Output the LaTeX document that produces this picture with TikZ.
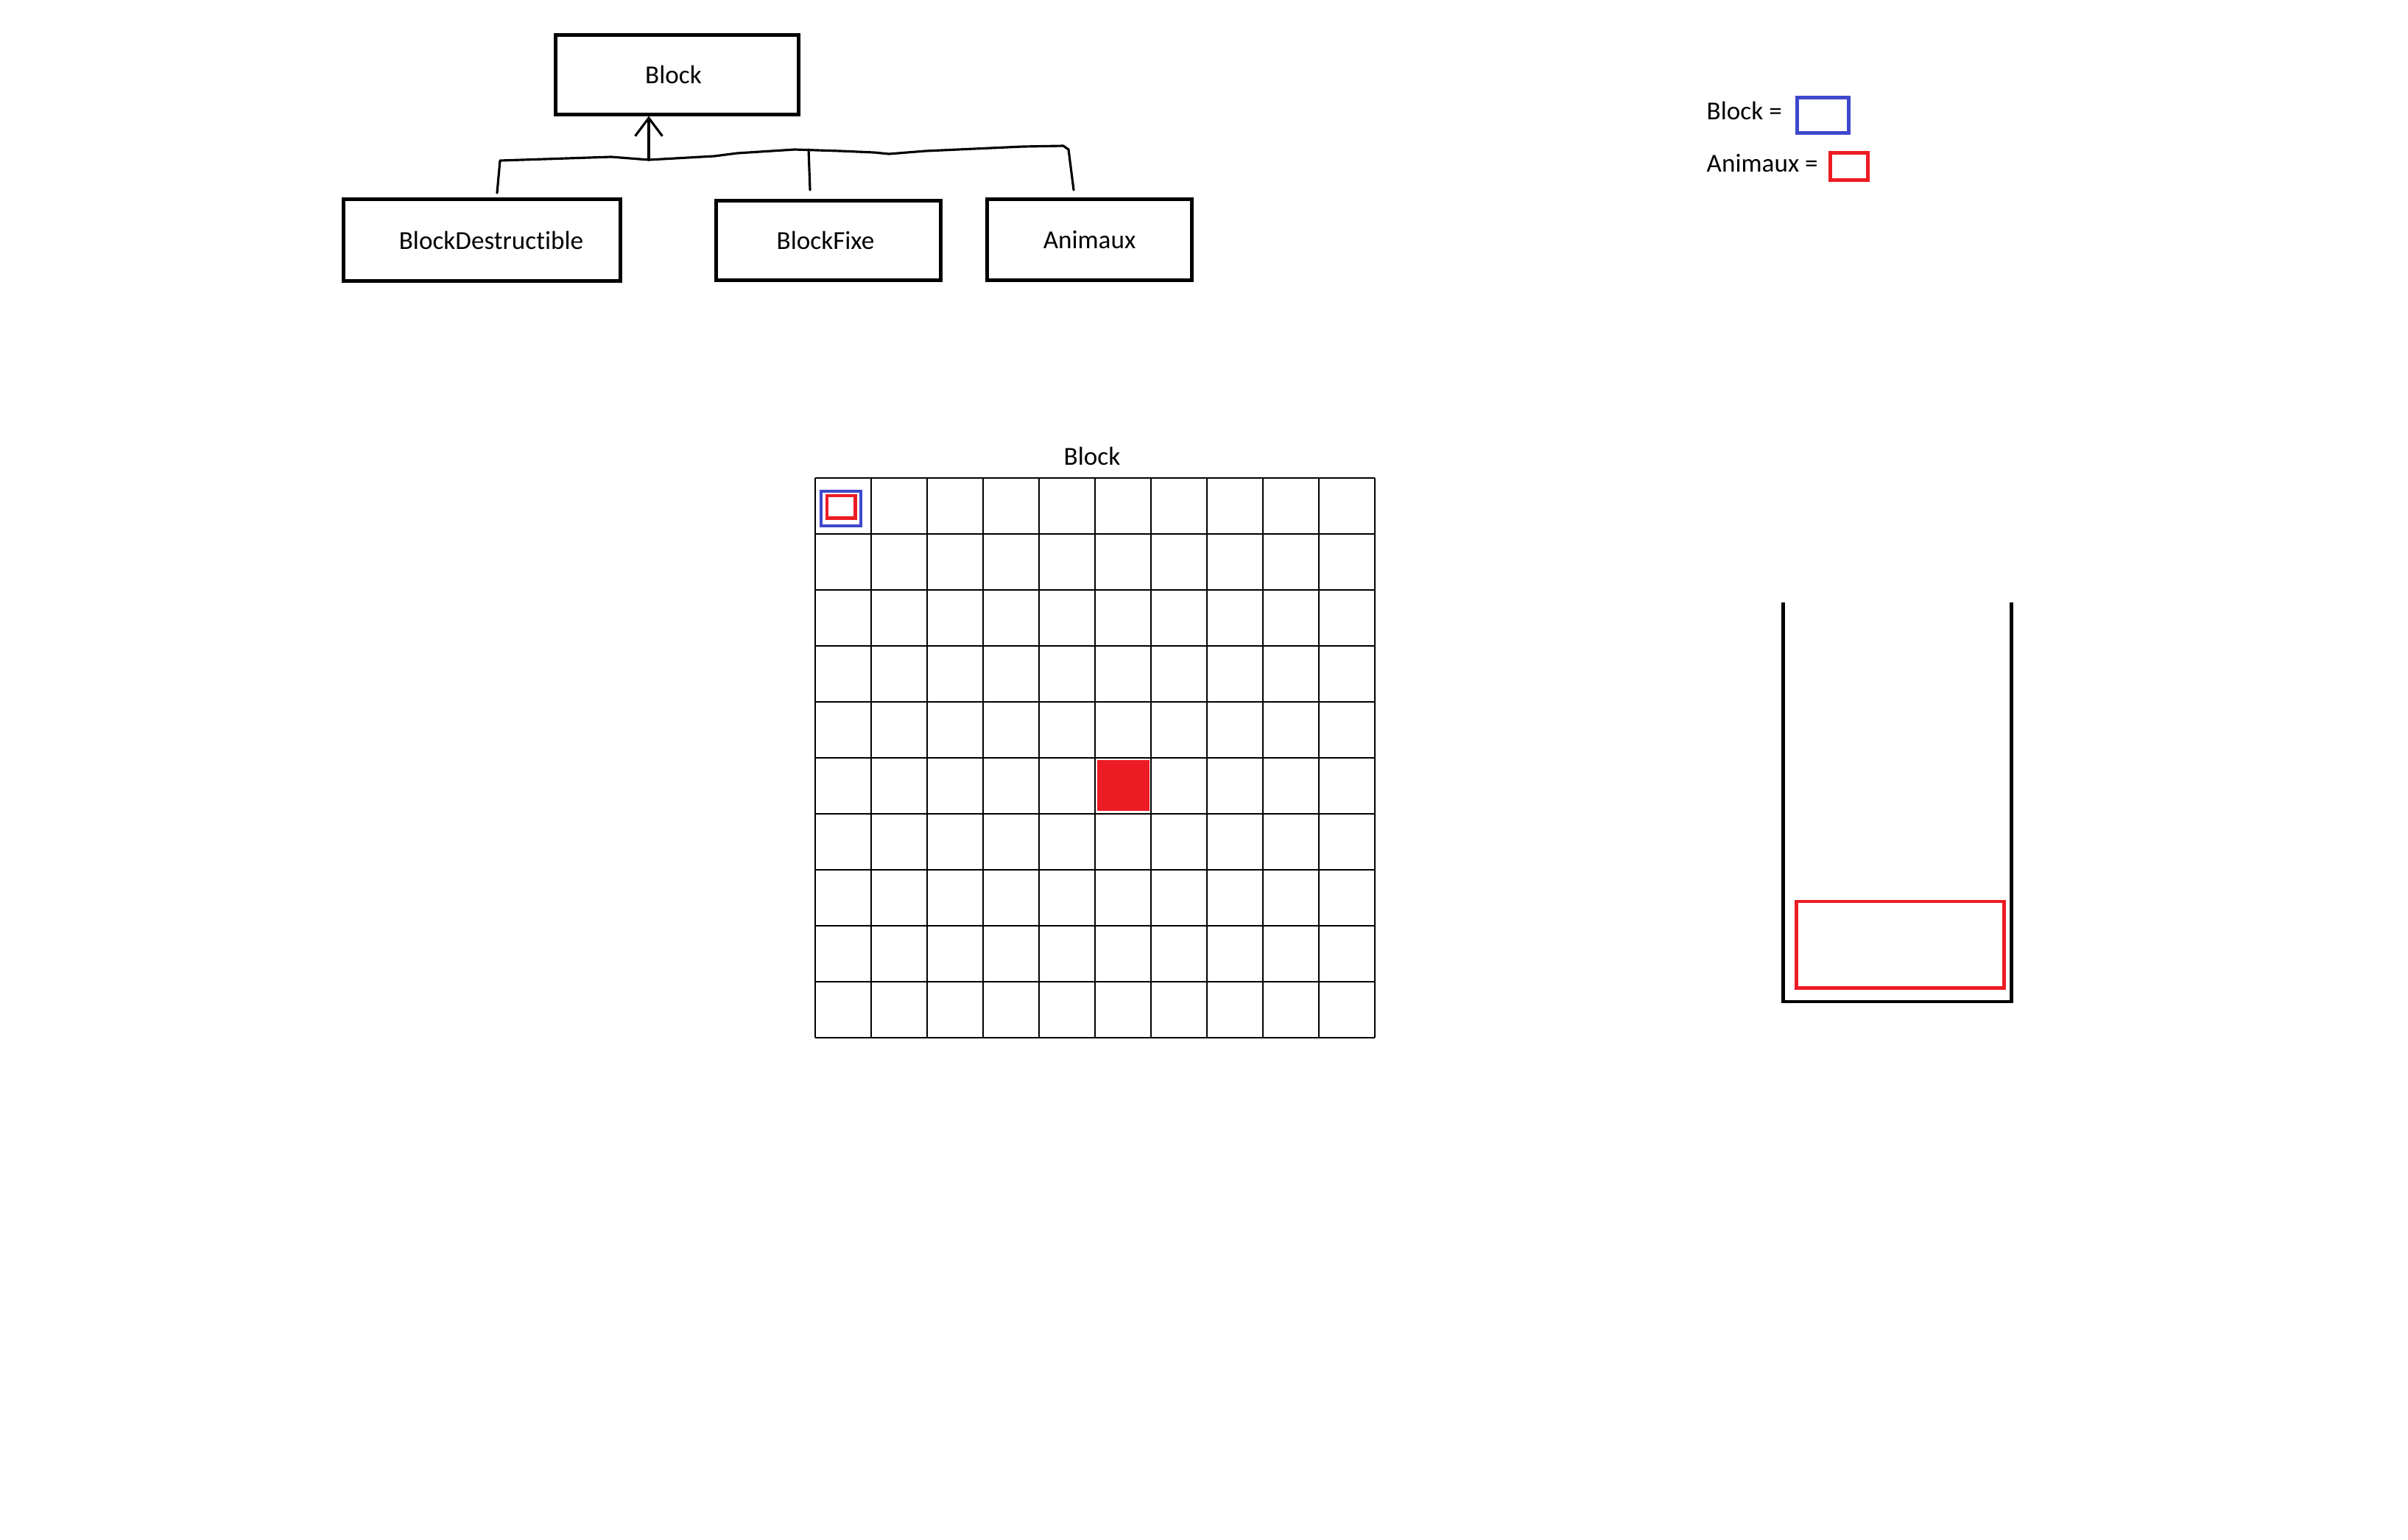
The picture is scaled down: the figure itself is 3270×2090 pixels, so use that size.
\documentclass[tikz,border=0pt]{standalone}
\usepackage{fontspec}
\setmainfont{Carlito}[Ligatures=NoCommon]
\usetikzlibrary{arrows.meta}
\definecolor{pblue}{RGB}{63,72,204}
\definecolor{pred}{RGB}{237,28,36}
\begin{document}
\begin{tikzpicture}[x=0.01cm,y=-0.01cm,
  every node/.style={font=\fontsize{10}{12}\selectfont},
  classbox/.style={draw=black,line width=1.42pt,inner sep=0pt,rectangle},
  hand/.style={line width=0.9pt,line cap=round,line join=round},
  gridline/.style={line width=0.38pt,black},
  thickred/.style={draw=pred,line width=1.33pt},
  thickblue/.style={draw=pblue,line width=1.33pt}]
\useasboundingbox[fill=white] (0,0) rectangle (3270,2090);

% class hierarchy
\node[classbox,minimum width=3.30cm,minimum height=1.07cm] (block) at (919.5,101.5) {\hspace*{-0.1cm}Block};
\node[classbox,minimum width=3.75cm,minimum height=1.10cm] (bd) at (654.5,326) {\hspace*{0.25cm}BlockDestructible};
\node[classbox,minimum width=3.04cm,minimum height=1.07cm] (bf) at (1125,326.5) {\hspace*{-0.08cm}BlockFixe};
\node[classbox,minimum width=2.77cm,minimum height=1.09cm] (an) at (1479.5,325.5) {Animaux};

\coordinate (bdtop) at (675,262);
\coordinate (bftop) at (1100,258);
\coordinate (antop) at (1458,258);
\coordinate (junc) at (881,217);
\coordinate (bfjunc) at (1098,203);

\draw[hand] (bdtop) -- (679,218) -- (830,213) -- (junc) -- (970,212) -- (1001,208)
  -- (1079,203) -- (1141,205) -- (1187,207) -- (1207,209) -- (1257,205)
  -- (1389,199) -- (1444,198) -- (1451,203) -- (antop);
\draw[hand] (bfjunc) -- (bftop);
\draw[hand,-{Straight Barb[length=7pt,width=10.5pt,line width=0.9pt]}] (junc) -- (junc |- block.south);

% legend
\node[anchor=base west,inner sep=0pt] (lblock) at (2317,162) {Block =};
\node[anchor=base west,inner sep=0pt] (lanim) at (2317,233) {Animaux =};
\draw[pblue,line width=1.42pt] (2440,132) rectangle (2510,180);
\draw[pred,line width=1.42pt] (2485.5,207.5) rectangle (2536.5,244.5);

% grid
\node[inner sep=0pt] (gtitle) at (1483,619) {Block};
\foreach \i in {0,...,10}{
  \draw[gridline] (1107+76*\i,649) -- (1107+76*\i,1409);
  \draw[gridline] (1107,649+76*\i) -- (1867,649+76*\i);
}
\draw[thickblue] (1115,667) rectangle (1169,714);
\draw[thickred] (1123,673) rectangle (1161.7,703.7);
\fill[pred] (1490,1032) rectangle (1561,1101);

% container
\draw[line width=1.33pt,line join=miter] (2421.5,818) -- (2421.5,1360) -- (2731.3,1360) -- (2731.3,818);
\draw[thickred] (2439.3,1224) rectangle (2721.3,1341.5);
\end{tikzpicture}
\end{document}
